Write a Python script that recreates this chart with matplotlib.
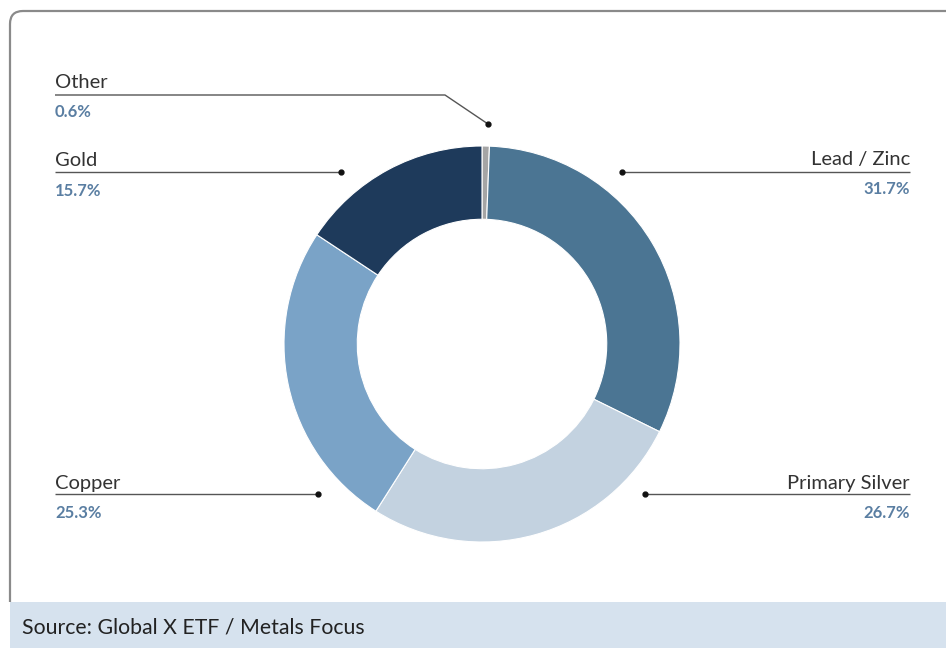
import matplotlib.pyplot as plt
from matplotlib.path import Path
from matplotlib.patches import PathPatch, Rectangle

# data
labels = ["Other", "Lead / Zinc", "Primary Silver", "Copper", "Gold"]
shares = [0.6, 31.7, 26.7, 25.3, 15.7]
colors = ["#a5a5a5", "#4b7593", "#c3d2e0", "#7aa3c7", "#1e3a5b"]
source = "Source: Global X ETF / Metals Focus"

W, H = 946, 649
plt.rcParams['font.family'] = ['Lato', 'DejaVu Sans']

fig = plt.figure(figsize=(W / 100, H / 100), dpi=100)
ax = fig.add_axes([0, 0, 1, 1])

def py(y):
    # pixel row (from top) -> data y
    return H - y

# donut
cx, cy, r = 482, py(344), 198
ax.pie(shares, colors=colors, startangle=90, counterclock=False,
       center=(cx, cy), radius=r, frame=True,
       wedgeprops=dict(width=r * 0.37, edgecolor="white", linewidth=0.8))

# frame with rounded top-left corner
verts = [(10, py(602)), (10, py(24)), (10, py(11)), (23, py(11)), (946, py(11))]
codes = [Path.MOVETO, Path.LINETO, Path.CURVE3, Path.CURVE3, Path.LINETO]
ax.add_patch(PathPatch(Path(verts, codes), fill=False, edgecolor="#8a8a8a", lw=1.6))

# source strip
ax.add_patch(Rectangle((10, py(648)), 936, 46, facecolor="#d6e2ee", edgecolor="none"))
ax.text(22, py(628), source, fontsize=15.3, color="#222222", va="center", ha="left")

# callouts: (label, pct, side, text row, line row, dot x, dot y)
line_col = "#555555"
pct_col = "#5a7ea2"
lab_col = "#333333"
callouts = [
    ("Other", shares[0], "left", 81, 95, 488, 124),
    ("Gold", shares[4], "left", 160, 172, 341, 172),
    ("Lead / Zinc", shares[1], "right", 158, 172, 622, 172),
    ("Copper", shares[3], "left", 482, 494, 318, 494),
    ("Primary Silver", shares[2], "right", 482, 494, 645, 494),
]
for name, val, side, ty, ly, dx, dy in callouts:
    if side == "left":
        tx, ha = 55, "left"
        if dy != ly:
            xs, ys = [55, 445, dx], [py(ly), py(ly), py(dy)]
        else:
            xs, ys = [55, dx], [py(ly), py(ly)]
    else:
        tx, ha = 910, "right"
        xs, ys = [dx, 910], [py(ly), py(ly)]
    ax.plot(xs, ys, color=line_col, lw=1.0, solid_capstyle="butt")
    ax.plot(dx, py(dy), "o", color="#111111", ms=3.5)
    ax.text(tx, py(ty + 1), name, fontsize=14.5, color=lab_col, ha=ha, va="center")
    ax.text(tx, py(ty + 31), f"{val:.1f}%", fontsize=12, color=pct_col,
            ha=ha, va="center", fontweight="bold")

ax.set_xlim(0, W)
ax.set_ylim(0, H)
ax.set_aspect("auto")
ax.axis("off")

fig.savefig("out.png", dpi=100)
